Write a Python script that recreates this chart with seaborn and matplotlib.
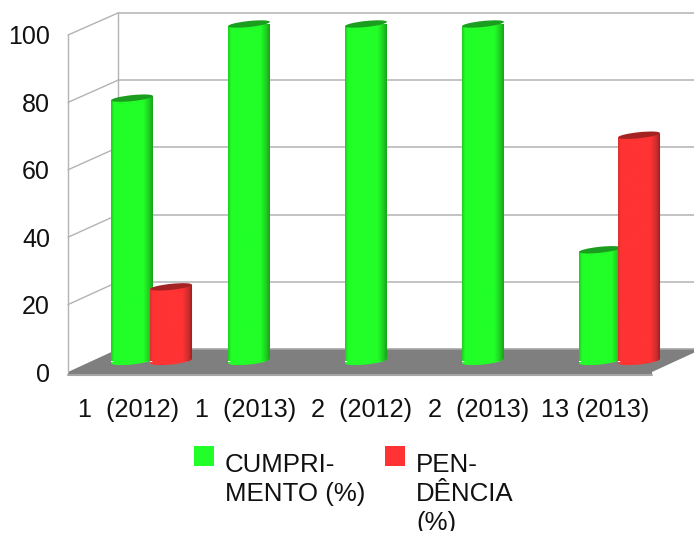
"""
3D-look cylinder bars: cumprimento / pendencia per group
"""

import numpy as np
import pandas as pd
import matplotlib
matplotlib.use('Agg')
import matplotlib.pyplot as plt
import seaborn as sns
from matplotlib.colors import LinearSegmentedColormap
from matplotlib.patches import Ellipse, Polygon, Rectangle
from matplotlib.transforms import Bbox, IdentityTransform

# Data
categories = ['1  (2012)', '1  (2013)', '2  (2012)', '2  (2013)', '13 (2013)']
cumprimento = [78, 100, 100, 100, 33]
pendencia = [22, 0, 0, 0, 67]
series_names = ['CUMPRI-\nMENTO (%)', 'PEN-\nDÊNCIA\n(%)']
y_ticks = [0, 20, 40, 60, 80, 100]

W, H = 694, 534
GREEN = '#22ff28'
RED = '#ff3333'
BAR_SHADES = {
    GREEN: ['#1fd023', '#22ff28', '#22ff28', '#1fcc22', '#169a18'],
    RED: ['#e03030', '#ff3333', '#ff3333', '#d02d2d', '#8f2020'],
}
TOP_SHADES = {GREEN: '#1b9e1f', RED: '#a32323'}
WALL = '#b3b3b3'
TEXT = '#111111'

sns.set_theme(style='white')
plt.rcParams['font.family'] = ['Liberation Sans', 'DejaVu Sans']


def axes_from_pixels(fig, left, right, top, bottom):
    """Add a transparent axes from pixel edges (y measured from the top)"""
    ax = fig.add_axes([left / W, 1 - bottom / H, (right - left) / W, (bottom - top) / H])
    ax.patch.set_alpha(0)
    return ax


df = pd.DataFrame({
    'categoria': categories * 2,
    'valor': cumprimento + pendencia,
    'serie': [series_names[0]] * len(categories) + [series_names[1]] * len(categories),
})

fig = plt.figure(figsize=(W / 100, H / 100), dpi=100)

# Walls and floor, in pixel coordinates
ax_bg = axes_from_pixels(fig, 0, W, 0, H)
ax_bg.set_xlim(0, W)
ax_bg.set_ylim(H, 0)
ax_bg.axis('off')
ax_bg.add_patch(Polygon([(68, 372), (118, 349), (702, 349), (652, 372), (652, 375), (68, 375)],
                        closed=True, facecolor='#7f7f7f', edgecolor='none'))
ax_bg.plot([68, 652], [374.5, 374.5], color='#a6a6a6', lw=1.5)
ax_bg.plot([118, 702], [349, 349], color='#a6a6a6', lw=1.2)
for tick in y_ticks[1:]:
    front_y = 372 - tick * 3.37
    back_y = 349 - tick * 3.36
    ax_bg.plot([68, 118], [front_y, back_y], color=WALL, lw=1.0)
    ax_bg.plot([118, 702], [back_y, back_y], color=WALL, lw=1.1)
ax_bg.plot([68, 68], [35, 372], color=WALL, lw=1.0)
ax_bg.plot([118, 118], [13, 349], color=WALL, lw=1.0)

# Front axis: only carries the tick labels
ax_front = axes_from_pixels(fig, 68, 652, 35, 372)
ax_front.set_xlim(-0.5 - 2 / 116.8, 4.5 - 2 / 116.8)
ax_front.set_ylim(0, 100)
ax_front.set_yticks(y_ticks)
ax_front.set_xticks(range(len(categories)))
ax_front.set_xticklabels(categories)
ax_front.tick_params(axis='y', length=0, pad=13, labelsize=18, labelcolor=TEXT)
ax_front.tick_params(axis='x', length=0, pad=19, labelsize=18.2, labelcolor=TEXT)
sns.despine(ax=ax_front, left=True, bottom=True)

# Bars
ax = axes_from_pixels(fig, 93, 678, 24, 361)
sns.barplot(data=df, x='categoria', y='valor', hue='serie', order=categories,
            hue_order=series_names, palette=[GREEN, RED], saturation=1,
            width=0.667, gap=0, legend=False, ax=ax)
ax.set_xlim(-0.5, 4.5)
ax.set_ylim(0, 100)
ax.axis('off')

WIDEN = 1.5 / 117
for z, (container, color) in enumerate(zip(ax.containers, [GREEN, RED]), start=3):
    cmap = LinearSegmentedColormap.from_list(
        'cyl', list(zip([0, 0.07, 0.76, 0.9, 1], BAR_SHADES[color])))
    for bar in container:
        if bar.get_height() == 0:
            bar.set_visible(False)
            continue
        bar.set_x(bar.get_x() - WIDEN)
        bar.set_width(bar.get_width() + 2 * WIDEN)
        x0, x1 = bar.get_x(), bar.get_x() + bar.get_width()
        value = bar.get_height()
        (px0, py_top), (px1, py_bot) = ax.transData.transform([(x0, value), (x1, 0)])
        pw = px1 - px0
        cx = (px0 + px1) / 2

        # body between the two tilted end caps
        body = Polygon([(px0, py_top - 2), (px1, py_top + 2), (px1, py_bot + 2), (px0, py_bot - 2)],
                       closed=True, transform=IdentityTransform())
        base = Ellipse((cx, py_bot), pw, 7, angle=6, transform=IdentityTransform(),
                       facecolor=color, edgecolor='none')
        ax.add_patch(base)
        base.set_clip_box(None)
        base.set_zorder(z)
        bar.set_clip_path(body)
        bar.set_clip_box(None)
        bar.set_zorder(z)

        for clip in (body, base):
            im = ax.imshow(np.linspace(0, 1, 64)[None, :], cmap=cmap, aspect='auto',
                           extent=(x0, x1, -4, value + 2), zorder=z + 0.1)
            im.set_clip_path(clip)
            im.set_clip_box(None)

        top = Ellipse((cx, py_top), pw, 6, angle=6, transform=IdentityTransform(),
                      facecolor=TOP_SHADES[color], edgecolor='none', zorder=z + 0.2)
        ax.add_patch(top)
        top.set_clip_box(None)
ax.set_xlim(-0.5, 4.5)
ax.set_ylim(0, 100)

# Legend, text wraps and runs off the bottom like the original
ax_leg = axes_from_pixels(fig, 0, W, 0, H)
ax_leg.set_xlim(0, W)
ax_leg.set_ylim(H, 0)
ax_leg.axis('off')
clip_box = Bbox([[0, 3], [W, H]])
for name, color, x_box, x_text in zip(series_names, [GREEN, RED], [194, 385], [225, 416]):
    ax_leg.add_patch(Rectangle((x_box, 446), 20, 20, facecolor=color, edgecolor='none'))
    label = ax_leg.text(x_text, 453, name, fontsize=18.6, color=TEXT, va='top', ha='left',
                        linespacing=1.26)
    label.set_clip_on(True)
    label.set_clip_box(clip_box)

plt.savefig('out.png', dpi=100)
